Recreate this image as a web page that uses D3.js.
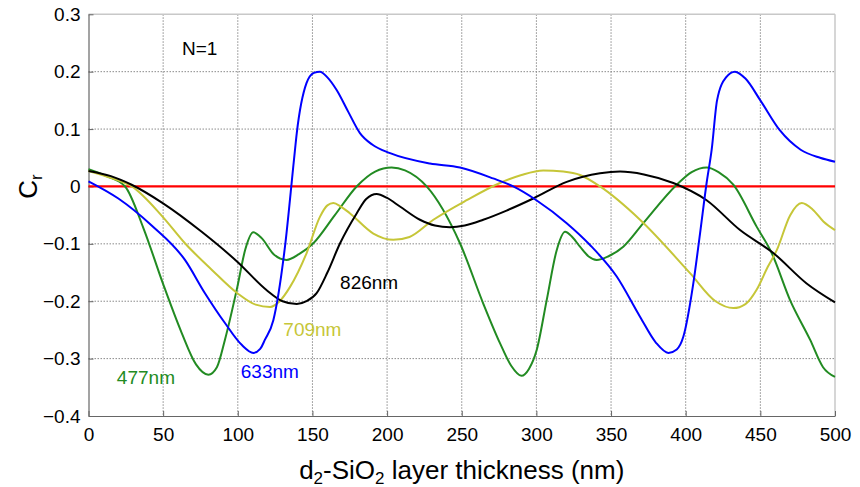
<!DOCTYPE html>
<html>
<head>
<meta charset="utf-8">
<script src="https://cdn.jsdelivr.net/npm/d3@7"></script>
<style>
  body { margin: 0; background: #fff; }
  text { font-family: "Liberation Sans", Arial, sans-serif; }
</style>
</head>
<body>
<svg id="chart" width="860" height="487"></svg>
<script>
// values
const xTicks = [0, 50, 100, 150, 200, 250, 300, 350, 400, 450, 500];
const yTicks = [-0.4, -0.3, -0.2, -0.1, 0, 0.1, 0.2, 0.3];

const green477 = [[0,0.030],[12,0.018],[24.5,0],[36.7,-0.072],[49.7,-0.168],[62.4,-0.255],[72,-0.31],[80.3,-0.328],[86,-0.315],[91.4,-0.267],[99.7,-0.175],[105,-0.11],[110.4,-0.080],[116,-0.090],[124,-0.118],[132.7,-0.128],[141,-0.118],[150.6,-0.099],[165,-0.05],[179.6,0.0],[192,0.026],[203,0.033],[212,0.028],[226.5,0],[248.8,-0.099],[264.4,-0.204],[275.6,-0.273],[283,-0.312],[290,-0.330],[295,-0.318],[300.2,-0.285],[306.9,-0.198],[313.6,-0.111],[319.2,-0.079],[324,-0.088],[329.2,-0.105],[335,-0.122],[340.4,-0.128],[348,-0.122],[358.2,-0.105],[371.6,-0.064],[394,0.003],[404,0.025],[414,0.033],[422,0.025],[431.9,0.003],[447.5,-0.07],[457.6,-0.116],[469.9,-0.198],[483.3,-0.267],[492,-0.315],[500,-0.332]];

const blue633 = [[0,0.009],[20,-0.021],[42.3,-0.068],[64.6,-0.128],[78,-0.186],[91.4,-0.238],[102.6,-0.276],[110.4,-0.290],[115,-0.283],[118.2,-0.267],[123.8,-0.233],[131.6,-0.105],[137.6,0.046],[139.5,0.093],[146,0.18],[151,0.198],[155,0.200],[160,0.190],[166.2,0.168],[174,0.13],[181.8,0.093],[190,0.073],[202,0.058],[228.7,0.040],[248.8,0.033],[271,0.014],[284.5,0],[300,-0.024],[320.3,-0.064],[335.9,-0.102],[353.8,-0.157],[369.4,-0.227],[380,-0.272],[388.4,-0.290],[394,-0.284],[398.4,-0.262],[405.1,-0.169],[409.6,-0.082],[414,0.006],[417.4,0.064],[421,0.15],[427,0.19],[433,0.200],[440,0.188],[450,0.15],[463,0.098],[477,0.064],[490,0.05],[500,0.043]];

const yellow709 = [[0,0.027],[15,0.015],[29,0],[49.7,-0.053],[64.6,-0.099],[82.5,-0.145],[99.7,-0.186],[112,-0.206],[121.6,-0.210],[128,-0.200],[135,-0.175],[146.1,-0.116],[155,-0.053],[160,-0.033],[164,-0.029],[169,-0.035],[175.2,-0.047],[190.8,-0.082],[204.2,-0.093],[215,-0.088],[231,-0.058],[253.3,-0.024],[275.6,0.006],[290,0.02],[304.6,0.028],[318,0.026],[329.2,0.02],[342.6,0.0],[369.4,-0.058],[402.9,-0.151],[420,-0.2],[431.9,-0.212],[440,-0.205],[447.5,-0.18],[455,-0.14],[461,-0.111],[470,-0.05],[477.7,-0.029],[485,-0.04],[492.2,-0.061],[500,-0.076]];

const black826 = [[0,0.027],[15,0.018],[28.9,0.003],[49.7,-0.029],[75.8,-0.079],[100,-0.132],[119,-0.180],[130,-0.200],[139.5,-0.205],[146,-0.200],[152.8,-0.186],[160,-0.15],[168.5,-0.099],[179.6,-0.047],[186,-0.022],[193,-0.013],[200,-0.02],[208.6,-0.035],[222,-0.058],[232,-0.068],[242.1,-0.071],[252,-0.068],[264.4,-0.058],[280,-0.042],[297.9,-0.021],[320.3,0.008],[342.6,0.023],[356,0.026],[372,0.021],[391.7,0.006],[414,-0.024],[436.4,-0.076],[458.7,-0.116],[481,-0.169],[500,-0.202]];

const zeroLine = [[0,0],[500,0]];

const series = [
  { name: 'red', data: zeroLine, color: '#ff0000', w: 2.2 },
  { name: '477nm', data: green477, color: '#228b22', w: 2 },
  { name: '709nm', data: yellow709, color: '#c6c638', w: 2 },
  { name: '826nm', data: black826, color: '#000000', w: 2 },
  { name: '633nm', data: blue633, color: '#0000ff', w: 2 }
];

const labels = [
  { text: '477nm', x: 19, y: -0.345, color: '#228b22' },
  { text: '633nm', x: 102, y: -0.333, color: '#0000ff' },
  { text: '709nm', x: 130.5, y: -0.261, color: '#c6c638' },
  { text: '826nm', x: 168.5, y: -0.179, color: '#000000' }
];

const margin = { top: 14.3, right: 25, bottom: 71, left: 88.5 };
const W = 860, H = 487;
const width = W - margin.left - margin.right,
      height = H - margin.top - margin.bottom;

const svg = d3.select('#chart');
const g = svg.append('g').attr('transform', `translate(${margin.left},${margin.top})`);

const x = d3.scaleLinear().domain([0, 500]).range([0, width]);
const y = d3.scaleLinear().domain([-0.4, 0.3]).range([height, 0]);

// grid
g.append('g')
  .selectAll('line')
  .data(xTicks.slice(1, -1))
  .join('line')
  .attr('x1', d => x(d)).attr('x2', d => x(d))
  .attr('y1', 0).attr('y2', height)
  .attr('stroke', '#8a8a8a').attr('stroke-width', 1)
  .attr('stroke-dasharray', '1.5,1.5');
g.append('g')
  .selectAll('line')
  .data(yTicks.slice(1, -1))
  .join('line')
  .attr('y1', d => y(d)).attr('y2', d => y(d))
  .attr('x1', 0).attr('x2', width)
  .attr('stroke', '#8a8a8a').attr('stroke-width', 1)
  .attr('stroke-dasharray', '1.5,1.5');

// box (top/right light)
g.append('line').attr('x1', 0).attr('x2', width).attr('y1', 0).attr('y2', 0)
  .attr('stroke', '#c8c8c8').attr('stroke-width', 1.5);
g.append('line').attr('x1', width).attr('x2', width).attr('y1', 0).attr('y2', height)
  .attr('stroke', '#c8c8c8').attr('stroke-width', 1.5);

// axes
const xAxis = d3.axisBottom(x).tickValues(xTicks).tickSizeInner(-5).tickSizeOuter(0).tickPadding(12);
const yAxis = d3.axisLeft(y).tickValues(yTicks).tickSizeInner(-5).tickSizeOuter(0).tickPadding(8)
  .tickFormat(d => d === 0 ? '0' : d3.format('.1f')(d));

const gx = g.append('g').attr('transform', `translate(0,${height})`).call(xAxis);
const gy = g.append('g').call(yAxis);
[gx, gy].forEach(a => {
  a.select('.domain').attr('stroke', '#666').attr('stroke-width', 1.2);
  a.selectAll('.tick line').attr('stroke', '#666');
  a.selectAll('.tick text').attr('font-size', 19).attr('fill', '#000')
    .style('font-family', '"Liberation Sans", Arial, sans-serif');
});

// curves
const line = d3.line()
  .x(d => x(d[0]))
  .y(d => y(d[1]))
  .curve(d3.curveMonotoneX);

g.append('g')
  .selectAll('path')
  .data(series)
  .join('path')
  .attr('d', d => line(d.data))
  .attr('fill', 'none')
  .attr('stroke', d => d.color)
  .attr('stroke-width', d => d.w)
  .attr('stroke-linejoin', 'round');

// labels
g.append('g')
  .selectAll('text')
  .data(labels)
  .join('text')
  .attr('x', d => x(d.x))
  .attr('y', d => y(d.y))
  .attr('fill', d => d.color)
  .attr('font-size', 19)
  .text(d => d.text);

g.append('text')
  .attr('x', x(62.6)).attr('y', y(0.229))
  .attr('font-size', 19)
  .text('N=1');

// axis titles
const xt = svg.append('text')
  .attr('x', margin.left + width / 2).attr('y', 479)
  .attr('text-anchor', 'middle')
  .attr('font-size', 26);
xt.append('tspan').text('d');
xt.append('tspan').attr('font-size', 17).attr('dy', 5).text('2');
xt.append('tspan').attr('dy', -5).text('-SiO');
xt.append('tspan').attr('font-size', 17).attr('dy', 5).text('2');
xt.append('tspan').attr('dy', -5).text(' layer thickness (nm)');

const yt = svg.append('text')
  .attr('transform', `translate(37,${margin.top + y(0)}) rotate(-90)`)
  .attr('text-anchor', 'middle')
  .attr('font-size', 26);
yt.append('tspan').text('C');
yt.append('tspan').attr('font-size', 17).attr('dy', 5).text('r');
</script>
</body>
</html>
